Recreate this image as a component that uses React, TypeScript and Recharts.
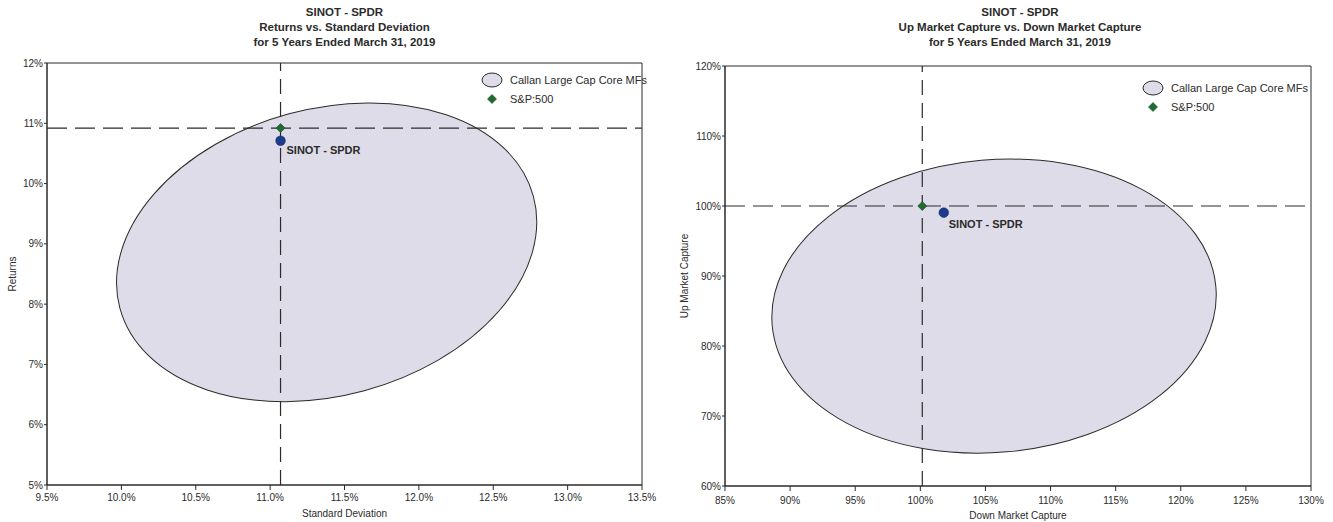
import React from 'react';
import {
  ScatterChart,
  Scatter,
  XAxis,
  YAxis,
  ReferenceArea,
  ReferenceLine,
} from 'recharts';

// left chart: returns vs standard deviation
const returnTicks = [5, 6, 7, 8, 9, 10, 11, 12];
const stdDevTicks = [9.5, 10, 10.5, 11, 11.5, 12, 12.5, 13, 13.5];
const sp500Risk = [{ name: 'S&P:500', x: 11.07, y: 10.92 }];
const sinotRisk = [{ name: 'SINOT - SPDR', x: 11.07, y: 10.71 }];
const callanStdDevRange = [9.94, 12.82];
const callanReturnRange = [6.48, 11.24];

// right chart: up vs down market capture
const upCaptureTicks = [60, 70, 80, 90, 100, 110, 120];
const downCaptureTicks = [85, 90, 95, 100, 105, 110, 115, 120, 125, 130];
const sp500Capture = [{ name: 'S&P:500', x: 100.15, y: 100.0 }];
const sinotCapture = [{ name: 'SINOT - SPDR', x: 101.8, y: 99.05 }];
const callanDownRange = [88.56, 122.76];
const callanUpRange = [64.8, 106.6];

const FONT = '"Liberation Sans", Arial, sans-serif';
const INK = '#2b2b2b';
const CLOUD = '#dedce8';

const tickStyle = { fontSize: 10, fill: INK, fontFamily: FONT };

const Diamond = (props: any) => {
  const { cx, cy } = props;
  const r = 4.5;
  return (
    <polygon
      points={`${cx},${cy - r} ${cx + r},${cy} ${cx},${cy + r} ${cx - r},${cy}`}
      fill="#1f6b32"
      stroke="#124a20"
      strokeWidth={0.6}
    />
  );
};

const makeDot = (dx: number, dy: number) => (props: any) => {
  const { cx, cy, payload } = props;
  return (
    <g>
      <circle cx={cx} cy={cy} r={4.8} fill="#1d3c8c" stroke="#12285e" strokeWidth={0.6} />
      <text
        x={cx + dx}
        y={cy + dy}
        fontSize={11}
        fontWeight="bold"
        fontFamily={FONT}
        fill={INK}
        dominantBaseline="central"
      >
        {payload.name}
      </text>
    </g>
  );
};

const makeCloud = (tilt: number) => (props: any) => {
  const { x, y, width, height } = props;
  const cx = x + width / 2;
  const cy = y + height / 2;
  return (
    <ellipse
      cx={cx}
      cy={cy}
      rx={Math.abs(width) / 2}
      ry={Math.abs(height) / 2}
      transform={`rotate(${tilt} ${cx} ${cy})`}
      fill={CLOUD}
      stroke={INK}
      strokeWidth={1}
    />
  );
};

const PeerLegend = ({ left, top }: { left: number; top: number }) => (
  <svg width={180} height={40} style={{ position: 'absolute', left, top, display: 'block' }}>
    <ellipse cx={12} cy={10} rx={10} ry={7} fill={CLOUD} stroke={INK} strokeWidth={1} />
    <text x={30} y={10} fontSize={11} fontFamily={FONT} fill={INK} dominantBaseline="central">
      Callan Large Cap Core MFs
    </text>
    <Diamond cx={12} cy={29} />
    <text x={30} y={29} fontSize={11} fontFamily={FONT} fill={INK} dominantBaseline="central">
      S&amp;P:500
    </text>
  </svg>
);

const yLabel = (text: string, dx: number) => (props: any) => {
  const { viewBox } = props;
  const x = viewBox.x + dx;
  const y = viewBox.y + viewBox.height / 2;
  return (
    <text
      x={x}
      y={y}
      transform={`rotate(-90 ${x} ${y})`}
      textAnchor="middle"
      dominantBaseline="central"
      fontSize={10}
      fontFamily={FONT}
      fill={INK}
    >
      {text}
    </text>
  );
};

const xLabel = (text: string, dy: number) => (props: any) => {
  const { viewBox } = props;
  return (
    <text
      x={viewBox.x + viewBox.width / 2}
      y={viewBox.y + dy}
      textAnchor="middle"
      dominantBaseline="central"
      fontSize={10}
      fontFamily={FONT}
      fill={INK}
    >
      {text}
    </text>
  );
};

const Title = ({ lines, left, width }: { lines: string[]; left: number; width: number }) => (
  <div
    style={{
      position: 'absolute',
      left,
      top: 5,
      width,
      textAlign: 'center',
      fontFamily: FONT,
      fontWeight: 'bold',
      fontSize: 11.5,
      lineHeight: '15px',
      color: INK,
    }}
  >
    {lines.map((l) => (
      <div key={l}>{l}</div>
    ))}
  </div>
);

export default function App() {
  return (
    <div style={{ position: 'absolute', left: 0, top: 0, width: 1333, height: 522, background: '#fff' }}>
      <Title lines={['SINOT - SPDR', 'Returns vs. Standard Deviation', 'for 5 Years Ended March 31, 2019']} left={47} width={595} />
      <Title
        lines={['SINOT - SPDR', 'Up Market Capture vs. Down Market Capture', 'for 5 Years Ended March 31, 2019']}
        left={725}
        width={590}
      />

      <div style={{ position: 'absolute', left: 0, top: 0 }}>
        <ScatterChart width={660} height={522} margin={{ top: 63, right: 18, bottom: 0, left: 0 }}>
          <XAxis
            type="number"
            dataKey="x"
            domain={[9.5, 13.5]}
            ticks={stdDevTicks}
            tickFormatter={(v) => `${v.toFixed(1)}%`}
            height={37}
            tickSize={5}
            tickMargin={4}
            tick={tickStyle}
            stroke={INK}
            interval={0}
            label={xLabel('Standard Deviation', 28)}
          />
          <YAxis
            type="number"
            dataKey="y"
            domain={[5, 12]}
            ticks={returnTicks}
            tickFormatter={(v) => `${v}%`}
            width={47}
            tickSize={3}
            tickMargin={1}
            tick={tickStyle}
            stroke={INK}
            interval={0}
            label={yLabel('Returns', 12)}
          />
          <ReferenceArea
            x1={callanStdDevRange[0]}
            x2={callanStdDevRange[1]}
            y1={callanReturnRange[0]}
            y2={callanReturnRange[1]}
            ifOverflow="visible"
            shape={makeCloud(-15.2)}
          />
          <ReferenceLine x={sp500Risk[0].x} stroke={INK} strokeWidth={1.2} strokeDasharray="15 8" />
          <ReferenceLine y={sp500Risk[0].y} stroke={INK} strokeWidth={1.2} strokeDasharray="20 8" />
          <ReferenceArea x1={9.5} x2={13.5} y1={5} y2={12} fill="none" stroke={INK} strokeWidth={1} ifOverflow="visible" />
          <Scatter data={sinotRisk} shape={makeDot(6, 9)} isAnimationActive={false} />
          <Scatter data={sp500Risk} shape={Diamond} isAnimationActive={false} />
        </ScatterChart>
        <PeerLegend left={480} top={70} />
      </div>

      <div style={{ position: 'absolute', left: 667, top: 0 }}>
        <ScatterChart width={666} height={522} margin={{ top: 66, right: 22, bottom: 0, left: 0 }}>
          <XAxis
            type="number"
            dataKey="x"
            domain={[85, 130]}
            ticks={downCaptureTicks}
            tickFormatter={(v) => `${v}%`}
            height={36}
            tickSize={5}
            tickMargin={6}
            tick={tickStyle}
            stroke={INK}
            interval={0}
            label={xLabel('Down Market Capture', 29)}
          />
          <YAxis
            type="number"
            dataKey="y"
            domain={[60, 120]}
            ticks={upCaptureTicks}
            tickFormatter={(v) => `${v}%`}
            width={58}
            tickSize={3}
            tickMargin={1}
            tick={tickStyle}
            stroke={INK}
            interval={0}
            label={yLabel('Up Market Capture', 17)}
          />
          <ReferenceArea
            x1={callanDownRange[0]}
            x2={callanDownRange[1]}
            y1={callanUpRange[0]}
            y2={callanUpRange[1]}
            ifOverflow="visible"
            shape={makeCloud(-5)}
          />
          <ReferenceLine x={sp500Capture[0].x} stroke={INK} strokeWidth={1.2} strokeDasharray="15 8" />
          <ReferenceLine y={sp500Capture[0].y} stroke={INK} strokeWidth={1.2} strokeDasharray="20 8" />
          <ReferenceArea x1={85} x2={130} y1={60} y2={120} fill="none" stroke={INK} strokeWidth={1} ifOverflow="visible" />
          <Scatter data={sinotCapture} shape={makeDot(5, 11)} isAnimationActive={false} />
          <Scatter data={sp500Capture} shape={Diamond} isAnimationActive={false} />
        </ScatterChart>
        <PeerLegend left={474} top={78} />
      </div>
    </div>
  );
}
